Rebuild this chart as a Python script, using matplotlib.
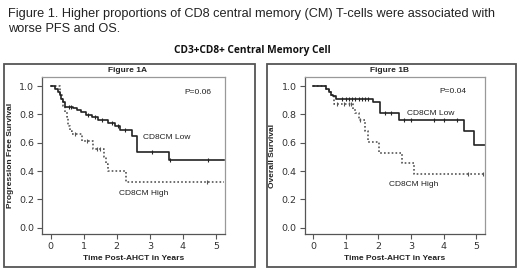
import matplotlib
matplotlib.use("Agg")
import matplotlib.pyplot as plt
from matplotlib.patches import Rectangle
import numpy as np

# ---- data ----
t_end = 5.25
a_low_t = [0, 0.14, 0.22, 0.27, 0.32, 0.38, 0.43, 0.68, 0.80, 0.93, 1.06, 1.24, 1.44, 1.74, 1.94, 2.10, 2.45, 2.60, 3.57]
a_low_s = [1.0, 0.98, 0.96, 0.94, 0.91, 0.885, 0.855, 0.845, 0.83, 0.815, 0.795, 0.78, 0.76, 0.74, 0.72, 0.69, 0.65, 0.535, 0.475]
a_low_c = [0.55, 0.62, 1.12, 1.35, 1.55, 1.85, 2.05, 2.25, 3.05, 3.62, 4.75]
a_high_t = [0, 0.28, 0.33, 0.38, 0.45, 0.50, 0.54, 0.58, 0.64, 0.95, 1.28, 1.62, 1.67, 1.72, 2.28]
a_high_s = [1.0, 0.94, 0.90, 0.86, 0.82, 0.78, 0.72, 0.68, 0.66, 0.615, 0.555, 0.50, 0.45, 0.40, 0.32]
a_high_c = [0.75, 1.1, 1.4, 1.5, 4.72]

b_low_t = [0, 0.40, 0.48, 0.55, 0.62, 0.72, 1.85, 2.05, 2.65, 4.62, 4.92]
b_low_s = [1.0, 0.98, 0.96, 0.94, 0.93, 0.91, 0.885, 0.81, 0.76, 0.68, 0.585]
b_low_c = [0.9, 1.0, 1.1, 1.2, 1.3, 1.4, 1.5, 1.6, 1.7, 2.2, 2.4, 2.8, 3.0, 3.7, 4.0, 4.4]
b_high_t = [0, 0.40, 0.48, 0.55, 0.65, 1.22, 1.30, 1.40, 1.60, 1.68, 2.02, 2.72, 3.10]
b_high_s = [1.0, 0.98, 0.96, 0.94, 0.875, 0.84, 0.81, 0.76, 0.68, 0.605, 0.53, 0.455, 0.38]
b_high_c = [0.75, 0.95, 1.1, 1.15, 1.45, 4.75, 5.2]

x_ticks = [0, 1, 2, 3, 4, 5]
y_ticks = [0.0, 0.2, 0.4, 0.6, 0.8, 1.0]

caption = ("Figure 1. Higher proportions of CD8 central memory (CM) T-cells were associated with\n"
           "worse PFS and OS.")
suptitle = "CD3+CD8+ Central Memory Cell"

fig = plt.figure(figsize=(5.2, 2.68), dpi=100)
W, H = 520, 268

def fx(x): return x / W
def fy(y): return 1 - y / H

fig.text(fx(8), fy(14), caption.split("\n")[0], family="Liberation Sans", fontsize=9.2,
         va="center", ha="left", color="#222")
fig.text(fx(8), fy(29.5), caption.split("\n")[1], family="Liberation Sans", fontsize=9.2,
         va="center", ha="left", color="#222")
fig.text(fx(252), fy(51), suptitle, family="Open Sans", fontweight="bold", fontsize=7.3,
         va="center", ha="center", color="#111")

# panel boxes
for (x0, x1) in [(4, 255), (267, 516)]:
    fig.patches.append(Rectangle((fx(x0), fy(267)), fx(x1 - x0), (267 - 64) / H,
                                 transform=fig.transFigure, fill=False,
                                 edgecolor="#555", linewidth=1.3))

def step_xy(t, s, end):
    return list(t) + [end], list(s) + [s[-1]]

def surv_at(t, s, x):
    idx = np.searchsorted(t, x, side="right") - 1
    return s[idx]

def panel(ax, lt, ls, lc, ht, hs, hc, end, ylabel, ptxt, ppos, lowpos, highpos):
    x, y = step_xy(ht, hs, end)
    ax.step(x, y, where="post", color="#555", linestyle=(0, (1, 1.3)), linewidth=1.2)
    ax.plot(hc, [surv_at(ht, hs, c) for c in hc], linestyle="none", marker="|",
            color="#555", markersize=3, markeredgewidth=0.8)
    x, y = step_xy(lt, ls, end)
    ax.step(x, y, where="post", color="#222", linewidth=1.2)
    ax.plot(lc, [surv_at(lt, ls, c) for c in lc], linestyle="none", marker="|",
            color="#222", markersize=3, markeredgewidth=0.8)
    ax.set_xlim(-0.26, 5.27)
    ax.set_ylim(-0.045, 1.065)
    ax.set_xticks(x_ticks)
    ax.set_yticks(y_ticks)
    ax.set_xticklabels([str(v) for v in x_ticks])
    ax.set_yticklabels([f"{v:.1f}" for v in y_ticks])
    ax.tick_params(direction="out", length=3.5, width=0.8, color="#555",
                   labelsize=6.8, labelcolor="#333", pad=2)
    for sp in ax.spines.values():
        sp.set_color("#999")
        sp.set_linewidth(0.9)
    ax.spines["left"].set_color("#555")
    ax.spines["bottom"].set_color("#555")
    ax.set_xlabel("Time Post-AHCT in Years", fontsize=6, fontweight="bold",
                  family="Liberation Sans", color="#222", labelpad=3)
    ax.set_ylabel(ylabel, fontsize=6, fontweight="bold", family="Liberation Sans",
                  color="#222", labelpad=4)
    ax.text(ppos[0], ppos[1], ptxt, fontsize=6, ha="center", va="center",
            family="Liberation Sans", color="#222")
    ax.text(lowpos[0], lowpos[1], "CD8CM Low", fontsize=6, ha="center", va="center",
            family="Liberation Sans", color="#222")
    ax.text(highpos[0], highpos[1], "CD8CM High", fontsize=6, ha="center", va="center",
            family="Liberation Sans", color="#222")

axA = fig.add_axes([fx(42), fy(234), fx(225 - 42), (234 - 77) / H])
axB = fig.add_axes([fx(304.5), fy(234), fx(485 - 304.5), (234 - 77) / H])

panel(axA, a_low_t, a_low_s, a_low_c, a_high_t, a_high_s, a_high_c, t_end,
      "Progression Free Survival", "P=0.06", (4.45, 0.955), (3.5, 0.635), (2.8, 0.24))
panel(axB, b_low_t, b_low_s, b_low_c, b_high_t, b_high_s, b_high_c, 5.28,
      "Overall Survival", "P=0.04", (4.3, 0.965), (3.6, 0.81), (3.1, 0.305))

fig.text(fx(128), fy(70.5), "Figure 1A", fontsize=6, fontweight="bold",
         family="Liberation Sans", ha="center", va="center", color="#222")
fig.text(fx(390), fy(70.5), "Figure 1B", fontsize=6, fontweight="bold",
         family="Liberation Sans", ha="center", va="center", color="#222")

fig.savefig("out.png", dpi=100)
